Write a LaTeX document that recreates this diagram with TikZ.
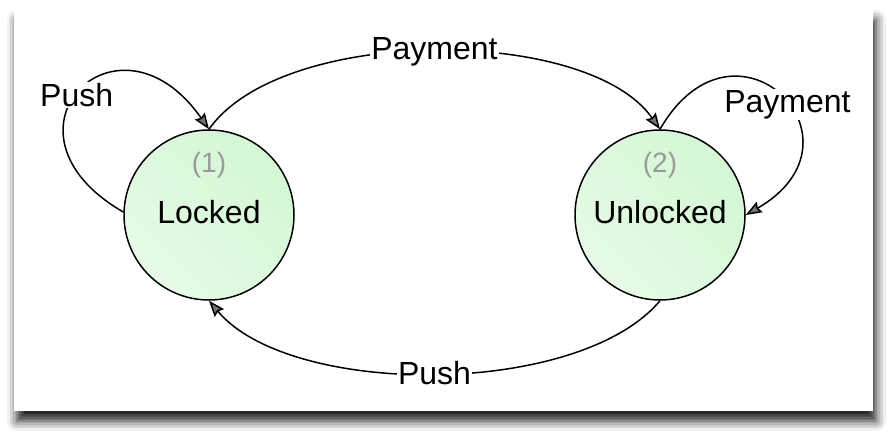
\documentclass[tikz,border=0pt]{standalone}
\usepackage{fontspec}
\setmainfont{Liberation Sans}
\usetikzlibrary{arrows.meta, shadows.blur}
\definecolor{stateA}{HTML}{E6FBE6}
\definecolor{stateB}{HTML}{D4F7D4}
\definecolor{numgray}{HTML}{9A9A9A}
\tikzset{
  state/.style={circle, draw, line width=1.5pt, minimum size=170pt, inner sep=0pt,
    top color=stateA, bottom color=stateB, shading angle=135,
    font=\fontsize{32}{38}\selectfont, text depth=7pt},
  num/.style={text=numgray, font=\fontsize{28}{34}\selectfont, inner sep=0pt},
  trans/.style={-{Stealth[length=16pt,width=12pt,inset=2pt]}, line width=1.5pt},
  lbl/.style={fill=white, inner sep=1pt, font=\fontsize{32}{38}\selectfont},
  card/.style={fill=white, blur shadow={shadow xshift=3pt, shadow yshift=-10pt,
    shadow blur radius=10pt, shadow opacity=90}}
}

\begin{document}
\begin{tikzpicture}[x=1pt, y=1pt]
    \useasboundingbox (0,0) rectangle (892,447);
    \path[card] (14,36) rectangle (873,437);
    \node[state, label={[num, label distance=-49pt]90:(1)}] (locked) at (209,232) {Locked};
    \node[state, label={[num, label distance=-49pt]90:(2)}] (unlocked) at (660,232) {Unlocked};
    \draw[trans] (locked.north) to[out=55, in=125, looseness=0.72] node[lbl] (payTop) {Payment} (unlocked.north);
    \draw[trans] (unlocked.south) to[out=-130, in=-50, looseness=0.72] node[lbl] (pushBot) {Push} (locked.south);
    \draw[trans] (locked.178) .. controls +(150:160) and +(125:160) .. node[lbl, pos=0.48] (pushLoop) {Push} (locked.north);
    \draw[trans] (unlocked.north) .. controls +(60:150) and +(30:150) .. node[lbl, pos=0.55] (payLoop) {Payment} (unlocked.east);
\end{tikzpicture}
\end{document}
